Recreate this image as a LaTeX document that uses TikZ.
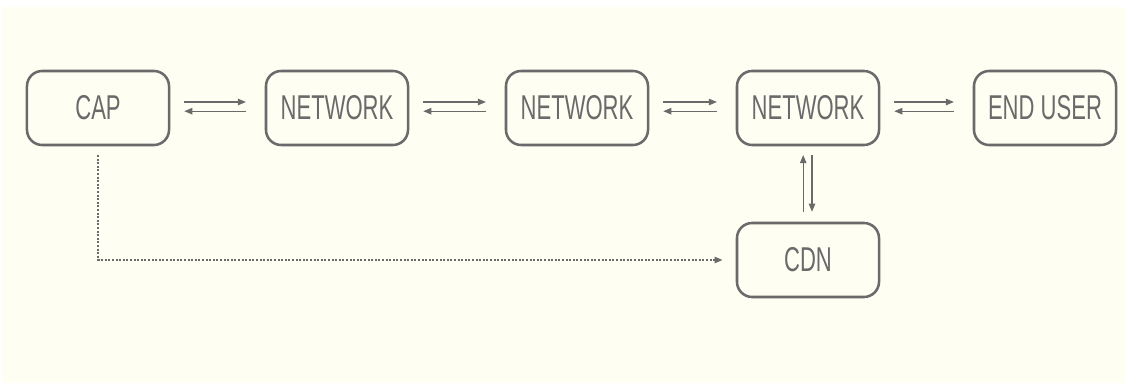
\documentclass[tikz,border=0pt]{standalone}
\usepackage{fontspec}
\setmainfont[FakeStretch=0.64]{Liberation Sans}
\usepackage{xcolor}
\usetikzlibrary{arrows.meta}
\definecolor{bgcream}{HTML}{FEFEF2}
\definecolor{boxgray}{HTML}{6A6A6A}
\tikzset{
	netbox/.style={
		draw=boxgray,
		line width=1.8pt,
		rounded corners=0.38cm,
		minimum width=3.55cm,
		minimum height=1.85cm,
		text=boxgray,
		font=\fontsize{24.5}{24.5}\selectfont
	},
	flow/.style={
		draw=boxgray,
		line width=0.8pt,
		-{Triangle[length=0.2cm,width=0.16cm]}
	}
}

\begin{document}
\begin{tikzpicture}[x=0.025cm,y=-0.025cm]
	
	% background
	\useasboundingbox (0,0) rectangle (1125,385);
	\fill[bgcream] (2,7) rectangle (1125,383);
	\node[netbox] (cap)  at (98,108)  {CAP};
	\node[netbox] (net1) at (337,108) {NETWORK};
	\node[netbox] (net2) at (577,108) {NETWORK};
	\node[netbox] (net3) at (808,108) {NETWORK};
	\node[netbox] (user) at (1045,108) {END USER};
	\node[netbox] (cdn)  at (808,260) {CDN};
	% two way links
	\foreach \a/\b in {cap/net1,net1/net2,net2/net3,net3/user}{
		\draw[flow] ([xshift=0.35cm,yshift=0.15cm]\a.east) -- ([xshift=-0.47cm,yshift=0.15cm]\b.west);
		\draw[flow] ([xshift=-0.47cm,yshift=-0.08cm]\b.west) -- ([xshift=0.35cm,yshift=-0.08cm]\a.east);
	}
	\draw[flow] ([xshift=-0.12cm,yshift=0.25cm]cdn.north) -- ([xshift=-0.12cm,yshift=-0.22cm]net3.south);
	\draw[flow] ([xshift=0.1cm,yshift=-0.22cm]net3.south) -- ([xshift=0.1cm,yshift=0.25cm]cdn.north);
	% cap to cdn
	\draw[flow,line width=1pt,dash pattern=on 0.05cm off 0.04cm] ([yshift=-0.22cm]cap.south) |- ([xshift=-0.33cm]cdn.west);
\end{tikzpicture}
\end{document}
